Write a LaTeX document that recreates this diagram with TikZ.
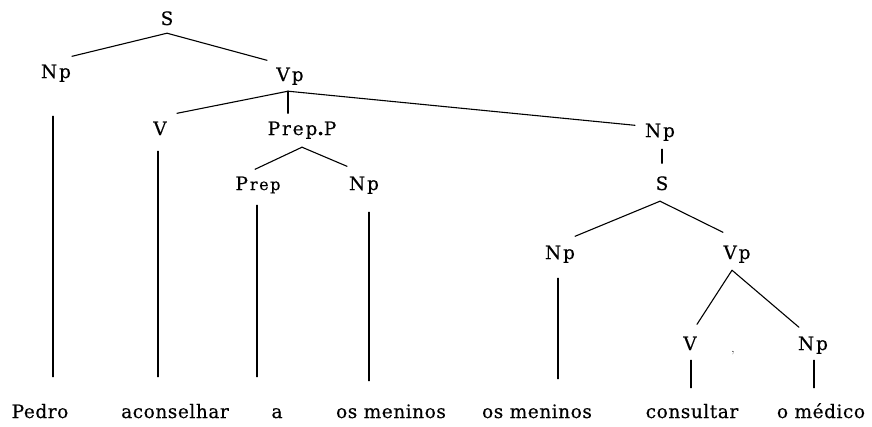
\documentclass[tikz,border=0pt]{standalone}
\usepackage{fontspec}
\newfontfamily\labfont[LetterSpace=10,FakeBold=0.4]{DejaVu Serif}
\newfontfamily\wordfont[LetterSpace=3,FakeBold=0.4]{DejaVu Serif}
\begin{document}
\begin{tikzpicture}[x=1pt,y=-1pt,
  lab/.style={font=\labfont\fontsize{18.5}{18.5}\selectfont, inner sep=0pt, anchor=base, text height=13.5pt, text depth=0pt},
  word/.style={font=\wordfont\fontsize{18.5}{18.5}\selectfont, inner sep=0pt, anchor=base, text height=13.5pt, text depth=0pt},
  edge/.style={line width=1.1pt, line cap=round}]
\useasboundingbox[fill=white] (0,0) rectangle (872,426);
% labels
\node[lab] (S0)   at (167,25)  {S};
\node[lab] (Np1)  at (56,78)   {Np};
\node[lab] (Vp1)  at (290,81)  {V\kern2pt p};
\node[lab] (V1)   at (160,135) {V};
\node[lab] (PrepP) at (302,135) {Prep{\bfseries .}P};
\node[lab] (Np2)  at (660,137) {Np};
\node[lab] (Prep) at (258,190) {P\kern2pt{\fontsize{16}{16}\selectfont rep}};
\node[lab] (Np4)  at (364,190) {Np};
\node[lab] (S2)   at (662,190) {S};
\node[lab] (Np3)  at (560,259) {Np};
\node[lab] (Vp2)  at (737,259) {Vp};
\node[lab] (V3)   at (690,350) {V};
\node[lab] (Np5)  at (813,350) {Np};
\node[inner sep=0pt, font=\fontsize{12}{12}\selectfont] (speck) at (733,353) {,};
% words
\node[word] (w1) at (40,418)  {Pedro};
\node[word] (w2) at (175,418) {aconselhar};
\node[word] (w3) at (277,418) {a};
\node[word] (w4) at (391,418) {os meninos};
\node[word] (w5) at (537,418) {os meninos};
\node[word] (w6) at (692,418) {consultar};
\node[word] (w7) at (821,418) {o médico};
% tree edges
\draw[edge] ([shift={(0,8)}]S0.south) -- ([shift={(16,-8)}]Np1.north);
\draw[edge] ([shift={(0,8)}]S0.south) -- ([shift={(-23,-7)}]Vp1.north);
\draw[edge] ([shift={(-2,10)}]Vp1.south) -- ([shift={(17,-8)}]V1.north);
\draw[edge] ([shift={(-2,10)}]Vp1.south) -- ([shift={(-14,-8)}]PrepP.north);
\draw[edge] ([shift={(-2,10)}]Vp1.south) -- ([shift={(-25,2)}]Np2.north);
\draw[edge] ([shift={(0,12)}]PrepP.south) -- ([shift={(-3,-7)}]Prep.north);
\draw[edge] ([shift={(0,12)}]PrepP.south) -- ([shift={(-17,-10)}]Np4.north);
\draw[edge] ([shift={(2,12)}]Np2.south) -- ([shift={(0,-13)}]S2.north);
\draw[edge] ([shift={(-2,11)}]S2.south) -- ([shift={(15,-9)}]Np3.north);
\draw[edge] ([shift={(-2,11)}]S2.south) -- ([shift={(-14,-13)}]Vp2.north);
\draw[edge] ([shift={(-5,11)}]Vp2.south) -- ([shift={(7,-12)}]V3.north);
\draw[edge] ([shift={(-5,11)}]Vp2.south) -- ([shift={(-14,-9)}]Np5.north);
% leaf lines
\draw[edge] ([shift={(-3,38)}]Np1.south) -- ([shift={(13,-27.5)}]w1.north);
\draw[edge] ([shift={(-2,16)}]V1.south) -- ([shift={(-17,-27.5)}]w2.north);
\draw[edge] ([shift={(-1,15)}]Prep.south) -- ([shift={(-20,-27.5)}]w3.north);
\draw[edge] ([shift={(5,22)}]Np4.south) -- ([shift={(-22,-23.5)}]w4.north);
\draw[edge] ([shift={(-2,19)}]Np3.south) -- ([shift={(21,-25.5)}]w5.north);
\draw[edge] ([shift={(1,10)}]V3.south) -- ([shift={(-1,-16.5)}]w6.north);
\draw[edge] ([shift={(1,10)}]Np5.south) -- ([shift={(-7,-16.5)}]w7.north);
\end{tikzpicture}
\end{document}
